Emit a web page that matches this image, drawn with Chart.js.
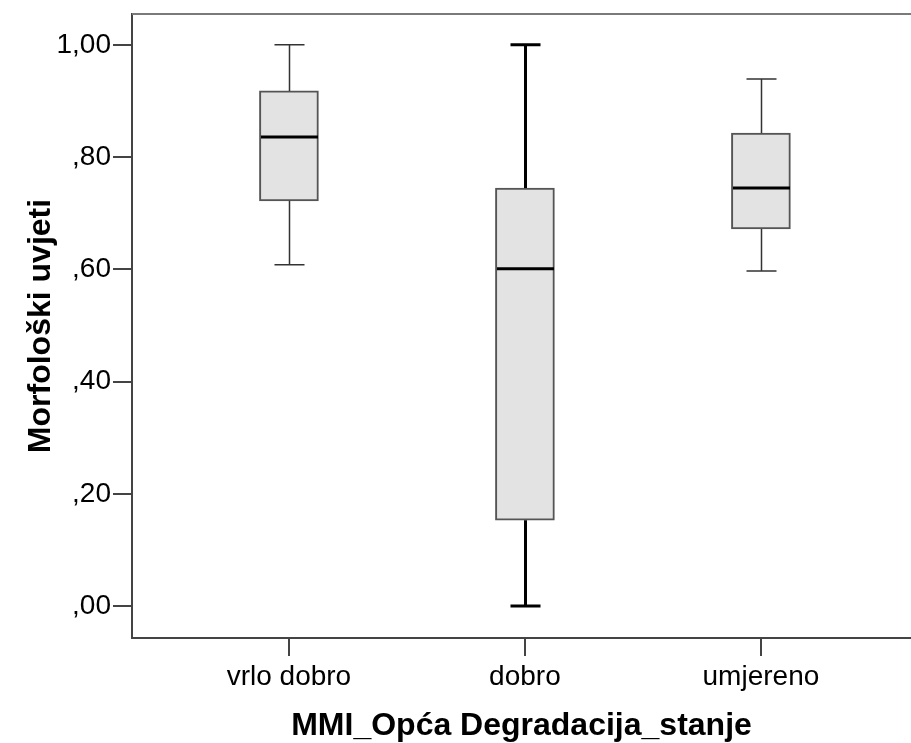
<!DOCTYPE html>
<html>
<head>
<meta charset="utf-8">
<script src="https://cdn.jsdelivr.net/npm/chart.js@4/dist/chart.umd.min.js"></script>
<style>
  html, body { margin: 0; padding: 0; background: #fff; overflow: hidden; }
  #wrap { width: 911px; height: 743px; }
</style>
</head>
<body>
<div id="wrap"><canvas id="grafico" width="911" height="743"></canvas></div>
<script>
// Kategorije i statistika kutijastih dijagrama
const kategorije = ['vrlo dobro', 'dobro', 'umjereno'];
const minimumi = [0.608, 0.000, 0.597];
const kvartil1 = [0.722, 0.153, 0.672];
const medijani = [0.836, 0.601, 0.745];
const kvartil3 = [0.918, 0.745, 0.843];
const maksimumi = [1.000, 1.000, 0.939];
const yOznake = [0, 0.2, 0.4, 0.6, 0.8, 1.0];

// debljina i boja brkova po kategoriji
const brkoviSirina = [1.5, 3, 1.5];
const brkoviBoja = ['#333', '#000', '#333'];

const fontOsnovni = 'Liberation Sans, Arial, sans-serif';

// ,80 umjesto 0.80
function formatZarez(v) {
    const s = v.toFixed(2).replace('.', ',');
    return v < 1 ? s.slice(1) : s;
}

// Crta brkove, kapice i medijane preko skala grafikona
const boxplotDodatak = {
    id: 'boxplotDodatak',
    afterDatasetsDraw(chart) {
        const ctx = chart.ctx;
        const x = chart.scales.x;
        const y = chart.scales.y;
        const polaKutije = 29.5;
        const polaKape = 15;
        ctx.save();
        kategorije.forEach((k, i) => {
            const cx = Math.round(x.getPixelForValue(i)) + 0.5;
            const yMin = y.getPixelForValue(minimumi[i]);
            const yQ1 = y.getPixelForValue(kvartil1[i]);
            const yMed = y.getPixelForValue(medijani[i]);
            const yQ3 = y.getPixelForValue(kvartil3[i]);
            const yMax = y.getPixelForValue(maksimumi[i]);

            ctx.strokeStyle = brkoviBoja[i];
            ctx.lineWidth = brkoviSirina[i];
            ctx.beginPath();
            ctx.moveTo(cx, yQ3); ctx.lineTo(cx, yMax);
            ctx.moveTo(cx - polaKape, yMax); ctx.lineTo(cx + polaKape, yMax);
            ctx.moveTo(cx, yQ1); ctx.lineTo(cx, yMin);
            ctx.moveTo(cx - polaKape, yMin); ctx.lineTo(cx + polaKape, yMin);
            ctx.stroke();

            ctx.strokeStyle = '#000';
            ctx.lineWidth = 3;
            ctx.beginPath();
            ctx.moveTo(cx - polaKutije + 1, yMed); ctx.lineTo(cx + polaKutije - 1, yMed);
            ctx.stroke();
        });

        // gornji rub okvira
        const a = chart.chartArea;
        ctx.strokeStyle = '#7a7a7a';
        ctx.lineWidth = 2;
        ctx.beginPath();
        ctx.moveTo(a.left, a.top); ctx.lineTo(a.right, a.top);
        ctx.stroke();
        ctx.restore();
    }
};

const dados = {
    datasets: [{
        label: 'Morfološki uvjeti',
        data: kategorije.map((k, i) => ({ x: i, y: [kvartil1[i], kvartil3[i]] })),
        backgroundColor: '#e3e3e3',
        borderColor: '#555',
        borderWidth: 2,
        borderSkipped: false,
        barThickness: 59
    }]
};

const config = {
    type: 'bar',
    data: dados,
    options: {
        responsive: false,
        animation: false,
        layout: { padding: { top: 14, right: 0, left: 0, bottom: 0 } },
        plugins: {
            legend: { display: false },
            tooltip: { enabled: false }
        },
        scales: {
            x: {
                type: 'linear',
                min: -0.665,
                max: 2.636,
                offset: false,
                afterBuildTicks: (s) => { s.ticks = kategorije.map((k, i) => ({ value: i })); },
                afterFit: (s) => { s.height = 105; s.paddingLeft = 0; s.paddingRight = 0; },
                ticks: {
                    callback: (v) => kategorije[v],
                    color: '#000',
                    font: { family: fontOsnovni, size: 28 },
                    padding: 4,
                    maxRotation: 0
                },
                grid: { offset: false, drawOnChartArea: false, drawTicks: true, tickLength: 18, color: '#444', lineWidth: 2 },
                border: { display: true, color: '#444', width: 2 },
                title: {
                    display: true,
                    text: 'MMI_Opća Degradacija_stanje',
                    color: '#000',
                    font: { family: fontOsnovni, size: 32, weight: 'bold' },
                    padding: { top: 0, bottom: -2 }
                }
            },
            y: {
                min: -0.057,
                max: 1.055,
                afterBuildTicks: (s) => { s.ticks = yOznake.map(v => ({ value: v })); },
                afterFit: (s) => { s.width = 132; s.paddingTop = 0; s.paddingBottom = 0; },
                ticks: {
                    callback: (v) => formatZarez(v),
                    color: '#000',
                    font: { family: fontOsnovni, size: 28 },
                    padding: 2
                },
                grid: { drawOnChartArea: false, drawTicks: true, tickLength: 19, color: '#444', lineWidth: 2 },
                border: { display: true, color: '#444', width: 2 },
                title: {
                    display: true,
                    text: 'Morfološki uvjeti',
                    color: '#000',
                    font: { family: fontOsnovni, size: 32, weight: 'bold' },
                    padding: { top: 22, bottom: 0 }
                }
            }
        }
    },
    plugins: [boxplotDodatak]
};

const ctx = document.getElementById('grafico').getContext('2d');
const grafico = new Chart(ctx, config);
</script>
</body>
</html>
